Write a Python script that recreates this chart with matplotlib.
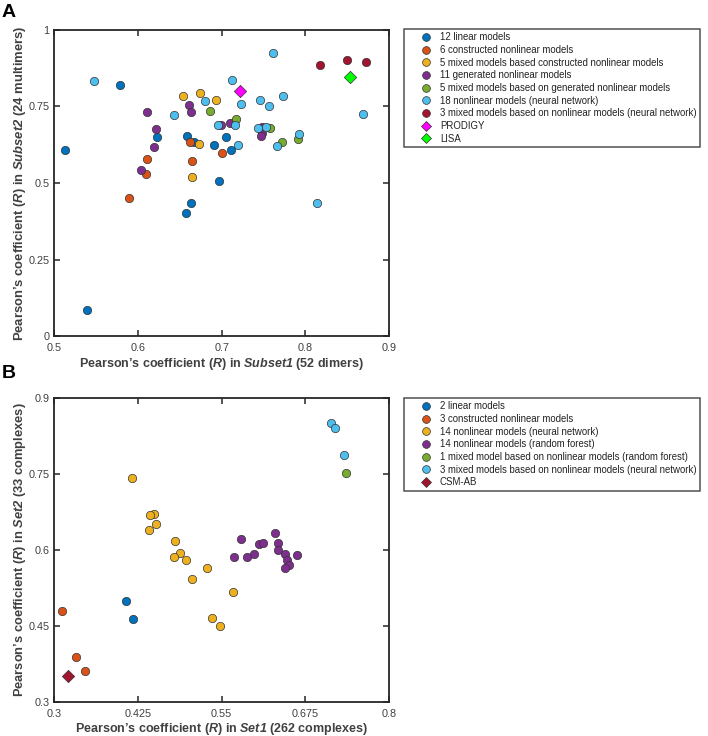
import matplotlib
matplotlib.use("Agg")
import matplotlib.pyplot as plt
from matplotlib.lines import Line2D
from matplotlib.legend_handler import HandlerLine2D

plt.rcParams['font.family'] = ['Liberation Sans', 'DejaVu Sans']
plt.rcParams['mathtext.fontset'] = 'custom'
plt.rcParams['mathtext.it'] = 'Liberation Sans:italic:bold'
plt.rcParams['mathtext.rm'] = 'Liberation Sans:italic:bold'
plt.rcParams['mathtext.bf'] = 'Liberation Sans:bold'

# ---------------- Panel A data ----------------
a_linear_x = [0.5786, 0.5128, 0.6225, 0.6587, 0.667, 0.691, 0.705, 0.711, 0.697, 0.663, 0.6575, 0.539]
a_linear_y = [0.820, 0.608, 0.651, 0.654, 0.633, 0.625, 0.651, 0.607, 0.507, 0.434, 0.402, 0.085]
a_constr_x = [0.6623, 0.7006, 0.6105, 0.6644, 0.6097, 0.589]
a_constr_y = [0.634, 0.597, 0.578, 0.572, 0.529, 0.452]
a_mixconstr_x = [0.654, 0.6747, 0.693, 0.6734, 0.6647]
a_mixconstr_y = [0.785, 0.793, 0.770, 0.627, 0.521]
a_gen_x = [0.661, 0.611, 0.663, 0.6217, 0.6197, 0.604, 0.699, 0.710, 0.748, 0.748, 0.747]
a_gen_y = [0.756, 0.733, 0.732, 0.675, 0.619, 0.543, 0.688, 0.697, 0.684, 0.662, 0.654]
a_mixgen_x = [0.686, 0.717, 0.758, 0.791, 0.772]
a_mixgen_y = [0.736, 0.710, 0.680, 0.645, 0.634]
a_nn_x = [0.548, 0.680, 0.643, 0.696, 0.761, 0.7126, 0.723, 0.746, 0.757, 0.773,
          0.869, 0.716, 0.744, 0.753, 0.793, 0.766, 0.719, 0.814]
a_nn_y = [0.832, 0.768, 0.722, 0.688, 0.924, 0.836, 0.757, 0.772, 0.750, 0.783,
          0.726, 0.690, 0.679, 0.684, 0.660, 0.621, 0.625, 0.436]
a_mixnn_x = [0.8175, 0.850, 0.873]
a_mixnn_y = [0.884, 0.900, 0.896]
a_prodigy_x = [0.722]
a_prodigy_y = [0.799]
a_lisa_x = [0.853]
a_lisa_y = [0.845]

a_labels = ["12 linear models", "6 constructed nonlinear models",
            "5 mixed models based constructed nonlinear models",
            "11 generated nonlinear models",
            "5 mixed models based on generated nonlinear models",
            "18 nonlinear models (neural network)",
            "3 mixed models based on nonlinear models (neural network)",
            "PRODIGY", "LISA"]
a_xticks = [0.5, 0.6, 0.7, 0.8, 0.9]
a_xticklabels = ["0.5", "0.6", "0.7", "0.8", "0.9"]
a_yticks = [0, 0.25, 0.5, 0.75, 1]
a_yticklabels = ["0", "0.25", "0.5", "0.75", "1"]

# ---------------- Panel B data ----------------
b_linear_x = [0.4077, 0.418]
b_linear_y = [0.4996, 0.465]
b_constr_x = [0.312, 0.332, 0.346]
b_constr_y = [0.480, 0.389, 0.362]
b_nn_x = [0.4162, 0.449, 0.443, 0.452, 0.441, 0.4805, 0.488, 0.4785, 0.4965,
          0.528, 0.5063, 0.536, 0.5478, 0.5667]
b_nn_y = [0.742, 0.671, 0.668, 0.651, 0.639, 0.618, 0.595, 0.586, 0.580,
          0.564, 0.542, 0.467, 0.450, 0.517]
b_rf_x = [0.5796, 0.6295, 0.6065, 0.6116, 0.634, 0.6345, 0.599, 0.5886, 0.568,
          0.644, 0.662, 0.647, 0.650, 0.645]
b_rf_y = [0.622, 0.633, 0.612, 0.614, 0.613, 0.600, 0.592, 0.587, 0.586,
          0.592, 0.591, 0.580, 0.571, 0.565]
b_mixrf_x = [0.7357]
b_mixrf_y = [0.751]
b_mixnn_x = [0.7127, 0.7193, 0.733]
b_mixnn_y = [0.851, 0.841, 0.787]
b_csm_x = [0.321]
b_csm_y = [0.352]

b_labels = ["2 linear models", "3 constructed nonlinear models",
            "14 nonlinear models (neural network)",
            "14 nonlinear models (random forest)",
            "1 mixed model based on nonlinear models (random forest)",
            "3 mixed models based on nonlinear models (neural network)",
            "CSM-AB"]
b_xticks = [0.3, 0.425, 0.55, 0.675, 0.8]
b_xticklabels = ["0.3", "0.425", "0.55", "0.675", "0.8"]
b_yticks = [0.3, 0.45, 0.6, 0.75, 0.9]
b_yticklabels = ["0.3", "0.45", "0.6", "0.75", "0.9"]

# MATLAB colours
C_BLUE = '#0072BD'
C_ORANGE = '#D95319'
C_YELLOW = '#EDB120'
C_PURPLE = '#7E2F8E'
C_GREEN = '#77AC30'
C_LBLUE = '#4DBEEE'
C_RED = '#A2142F'
AX_COL = '#262626'
TXT_COL = '#404040'

fig = plt.figure(figsize=(7.08, 7.36), dpi=100)
axA = fig.add_axes([0.0767, 0.5428, 0.4727, 0.4168])
axB = fig.add_axes([0.0767, 0.0458, 0.4727, 0.4139])

MS = 36
EW = 0.5
EC = '#333333'


def style(ax, xt, xtl, yt, ytl, xlim, ylim):
    ax.set_xlim(*xlim)
    ax.set_ylim(*ylim)
    ax.set_xticks(xt)
    ax.set_xticklabels(xtl)
    ax.set_yticks(yt)
    ax.set_yticklabels(ytl)
    for s in ax.spines.values():
        s.set_linewidth(1.3)
        s.set_color(AX_COL)
    ax.tick_params(direction='in', top=True, right=True, length=4, width=1.1,
                   color=AX_COL, labelcolor=TXT_COL, labelsize=7.8)
    ax.tick_params(axis='x', pad=4.5)
    ax.tick_params(axis='y', pad=3.5)


def sc(ax, x, y, c, m='o'):
    ax.scatter(x, y, s=MS if m == 'o' else MS * 1.1, c=c, marker=m,
               edgecolors=EC, linewidths=EW, zorder=3)


# Panel A
sc(axA, a_linear_x, a_linear_y, C_BLUE)
sc(axA, a_constr_x, a_constr_y, C_ORANGE)
sc(axA, a_mixconstr_x, a_mixconstr_y, C_YELLOW)
sc(axA, a_gen_x, a_gen_y, C_PURPLE)
sc(axA, a_mixgen_x, a_mixgen_y, C_GREEN)
sc(axA, a_nn_x, a_nn_y, C_LBLUE)
sc(axA, a_mixnn_x, a_mixnn_y, C_RED)
sc(axA, a_prodigy_x, a_prodigy_y, '#FF00FF', 'D')
sc(axA, a_lisa_x, a_lisa_y, '#00FF00', 'D')
style(axA, a_xticks, a_xticklabels, a_yticks, a_yticklabels, (0.5, 0.9), (0, 1))
axA.set_xlabel(r"Pearson’s coefficient ($R$) in $\mathit{Subset1}$ (52 dimers)",
               fontsize=9, fontweight='bold', color=TXT_COL, labelpad=2)
axA.set_ylabel(r"Pearson’s coefficient ($R$) in $\mathit{Subset2}$ (24 multimers)",
               fontsize=9.4, fontweight='bold', color=TXT_COL, labelpad=0.5)

# Panel B
sc(axB, b_linear_x, b_linear_y, C_BLUE)
sc(axB, b_constr_x, b_constr_y, C_ORANGE)
sc(axB, b_nn_x, b_nn_y, C_YELLOW)
sc(axB, b_rf_x, b_rf_y, C_PURPLE)
sc(axB, b_mixrf_x, b_mixrf_y, C_GREEN)
sc(axB, b_mixnn_x, b_mixnn_y, C_LBLUE)
sc(axB, b_csm_x, b_csm_y, C_RED, 'D')
style(axB, b_xticks, b_xticklabels, b_yticks, b_yticklabels, (0.3, 0.8), (0.3, 0.9))
axB.set_xlabel(r"Pearson’s coefficient ($R$) in $\mathit{Set1}$ (262 complexes)",
               fontsize=9, fontweight='bold', color=TXT_COL, labelpad=2)
axB.set_ylabel(r"Pearson’s coefficient ($R$) in $\mathit{Set2}$ (33 complexes)",
               fontsize=9.3, fontweight='bold', color=TXT_COL, labelpad=0.5)


def handles(colors, markers):
    hs = []
    for c, m in zip(colors, markers):
        hs.append(Line2D([], [], linestyle='none', marker=m, markersize=5.6 if m == 'o' else 5,
                         markerfacecolor=c, markeredgecolor=EC, markeredgewidth=EW))
    return hs


a_cols = [C_BLUE, C_ORANGE, C_YELLOW, C_PURPLE, C_GREEN, C_LBLUE, C_RED, '#FF00FF', '#00FF00']
a_mk = ['o'] * 7 + ['D', 'D']
b_cols = [C_BLUE, C_ORANGE, C_YELLOW, C_PURPLE, C_GREEN, C_LBLUE, C_RED]
b_mk = ['o'] * 6 + ['D']

LFS = 6.9
legkw = dict(loc='upper left', fontsize=LFS, frameon=True, fancybox=False,
             borderaxespad=0, handlelength=2.8, handletextpad=0.6,
             labelspacing=0.28, borderpad=0.35, labelcolor='#222222',
             handler_map={Line2D: HandlerLine2D(xpad=1.15)})
legA = fig.legend(handles(a_cols, a_mk), a_labels,
                  bbox_to_anchor=(404 / 708, 1 - 29 / 736), **legkw)
legB = fig.legend(handles(b_cols, b_mk), b_labels,
                  bbox_to_anchor=(404 / 708, 1 - 398 / 736), **legkw)
for lg in (legA, legB):
    fr = lg.get_frame()
    fr.set_edgecolor(AX_COL)
    fr.set_linewidth(1.1)

fig.text(2 / 708, 1 - 4 / 736, "A", fontsize=14, fontweight='bold', va='top', ha='left')
fig.text(2 / 708, 1 - 365 / 736, "B", fontsize=14, fontweight='bold', va='top', ha='left')

fig.savefig("out.png", dpi=100)
